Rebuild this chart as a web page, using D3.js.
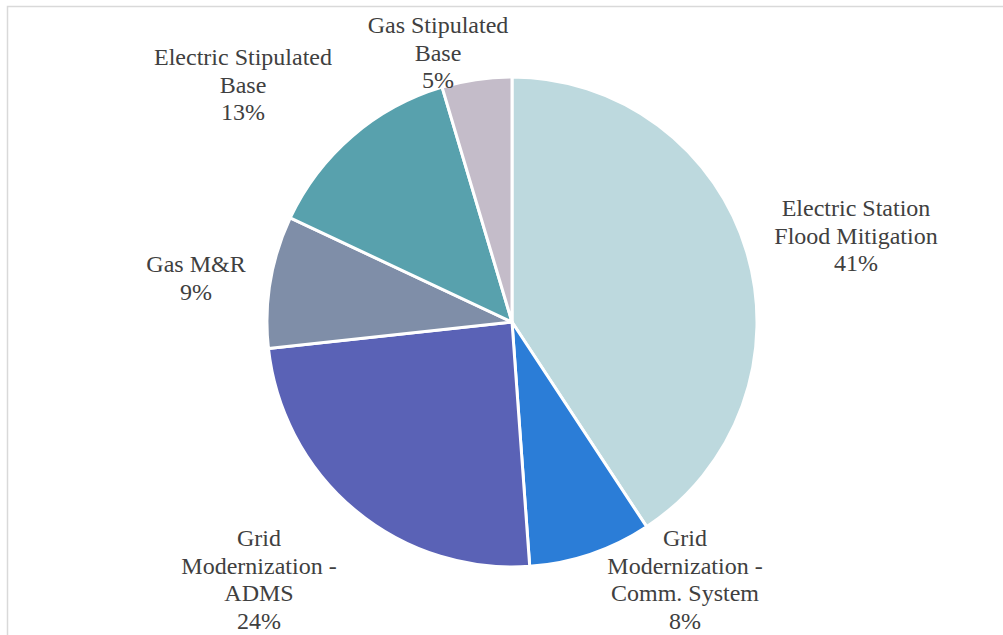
<!DOCTYPE html>
<html>
<head>
<meta charset="utf-8">
<script src="https://cdn.jsdelivr.net/npm/d3@7/dist/d3.min.js"></script>
<style>
  html, body { margin: 0; padding: 0; background: #fff; }
  svg { display: block; }
  text.lbl { font-family: "Times New Roman", "Liberation Serif", Times, serif; }
</style>
</head>
<body>
<svg id="chart" width="1003" height="635"></svg>
<script>
// Capital program shares by category (percent of total)
const categories = [
  "Electric Station Flood Mitigation",
  "Grid Modernization - Comm. System",
  "Grid Modernization - ADMS",
  "Gas M&R",
  "Electric Stipulated Base",
  "Gas Stipulated Base"
];
const shares = [40.7, 8.1, 24.4, 8.7, 13.4, 4.6];

// Wrapped label lines for each category
const labelLines = [
  ["Electric Station", "Flood Mitigation"],
  ["Grid", "Modernization -", "Comm. System"],
  ["Grid", "Modernization -", "ADMS"],
  ["Gas M&R"],
  ["Electric Stipulated", "Base"],
  ["Gas Stipulated", "Base"]
];

const sliceColors = ["#bdd9de", "#2b7dd7", "#5a62b6", "#7f8ea8", "#58a1ad", "#c4bcc9"];

// Label block placement: centre x and first baseline y
const labelSpots = [
  [856, 216],
  [685, 546],
  [259, 546],
  [196, 272],
  [243, 65],
  [438, 33]
];

const width = 1003, height = 635;
const cx = 512, cy = 322, radius = 245;
const lineHeight = 27.6;

const svg = d3.select("#chart");

// outer frame
svg.append("rect")
  .attr("x", 7.5).attr("y", 6.5)
  .attr("width", 1100).attr("height", 1000)
  .attr("fill", "none")
  .attr("stroke", "#d9d9d9")
  .attr("stroke-width", 1.5);

const data = categories.map((c, i) => ({ name: c, value: shares[i], lines: labelLines[i], i }));
const total = d3.sum(shares);

const color = d3.scaleOrdinal().domain(categories).range(sliceColors);

const pie = d3.pie().value(d => d.value).sort(null);
const arc = d3.arc().innerRadius(0).outerRadius(radius);

const g = svg.append("g").attr("transform", `translate(${cx},${cy})`);

g.selectAll("path.slice")
  .data(pie(data))
  .join("path")
  .attr("class", "slice")
  .attr("d", arc)
  .attr("fill", d => color(d.data.name))
  .attr("stroke", "#ffffff")
  .attr("stroke-width", 3)
  .attr("stroke-linejoin", "round");

// category labels with rounded percentages
const labels = svg.selectAll("text.lbl")
  .data(data)
  .join("text")
  .attr("class", "lbl")
  .attr("font-size", 24)
  .attr("fill", "#404040")
  .attr("text-anchor", "middle");

labels.each(function(d) {
  const t = d3.select(this);
  const [x, y] = labelSpots[d.i];
  const lines = d.lines.concat([Math.round(d.value / total * 100) + "%"]);
  lines.forEach((ln, k) => {
    t.append("tspan")
      .attr("x", x)
      .attr("y", y + k * lineHeight)
      .text(ln);
  });
});
</script>
</body>
</html>
